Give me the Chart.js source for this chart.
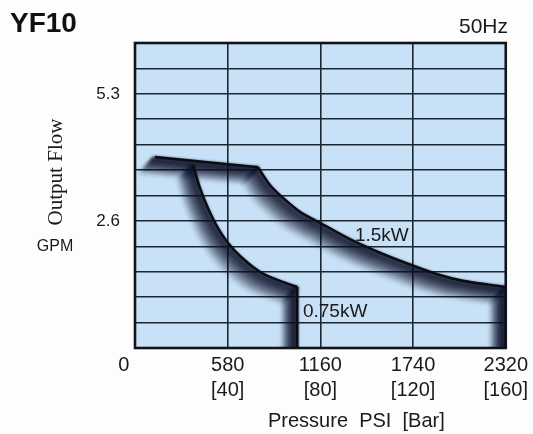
<!DOCTYPE html>
<html>
<head>
<meta charset="utf-8">
<script src="https://cdn.jsdelivr.net/npm/chart.js@4"></script>
<style>
  body { margin: 0; background: #fdfdfd; }
  #wrap { width: 533px; height: 434px; position: relative; }
</style>
</head>
<body>
<div id="wrap"><canvas id="chart"></canvas></div>
<script>
// pressure (PSI) / flow (GPM)
// flat part shared by both motors (pump limit)
var topLineX = [125, 769];
var topLineY = [3.98, 3.77];
var kw15X = [769, 844, 926, 1032, 1157, 1344, 1551, 1745, 1907, 2051, 2320];
var kw15Y = [3.77, 3.40, 3.13, 2.84, 2.61, 2.27, 1.96, 1.71, 1.52, 1.40, 1.27];
var kw075X = [363, 406, 456, 519, 582, 669, 794, 938, 1015];
var kw075Y = [3.82, 3.34, 2.92, 2.50, 2.19, 1.88, 1.56, 1.36, 1.27];
// the vertical cut-off at the end of each curve
var dropX = [2320, 1015];
var dropTopY = [1.27, 1.27];

var xTicks = [0, 580, 1160, 1740, 2320];
var xTickLabels = ['0    ', ['580', '[40]'], ['1160', '[80]'], ['1740', '[120]'], ['2320', '[160]']];
var yGrid = [0, 0.53, 1.06, 1.59, 2.12, 2.65, 3.18, 3.71, 4.24, 4.77, 5.3, 5.83, 6.36];
var yLabelValues = [2.65, 5.3];
var yLabelTexts = ['2.6', '5.3'];

var curveNames = ['1.5kW', '0.75kW'];
var curveNameX = [1376, 1051];
var curveNameY = [2.23, 0.65];

var SANS = '"Liberation Sans", Arial, sans-serif';

function pts(xs, ys) {
    return xs.map(function (x, i) { return {x: x, y: ys[i]}; });
}

function lineSet(label, data, tension) {
    return {
        label: label,
        data: data,
        borderColor: '#0b0d14',
        borderWidth: 2.6,
        pointRadius: 0,
        tension: tension,
        fill: false
    };
}

var sets = [
    lineSet('limit', pts(topLineX, topLineY), 0),
    lineSet(curveNames[0], pts(kw15X, kw15Y), 0.3),
    lineSet(curveNames[1], pts(kw075X, kw075Y), 0.3)
];
dropX.forEach(function (x, i) {
    sets.push(lineSet(curveNames[i] + ' max', [{x: x, y: dropTopY[i]}, {x: x, y: 0}], 0));
});

var panelPlugin = {
    id: 'panel',
    beforeDraw: function (chart) {
        var a = chart.chartArea, c = chart.ctx;
        c.save();
        c.fillStyle = '#c9e1f6';
        c.fillRect(a.left, a.top, a.right - a.left, a.bottom - a.top);
        c.restore();
    },
    beforeDatasetsDraw: function (chart) {
        var a = chart.chartArea, c = chart.ctx;
        c.save();
        c.strokeStyle = '#111418';
        c.lineWidth = 2.6;
        c.strokeRect(a.left, a.top, a.right - a.left, a.bottom - a.top);
        // soft shadow down-left of each curve
        c.beginPath();
        c.rect(a.left, a.top, a.right - a.left, a.bottom - a.top);
        c.clip();
        c.filter = 'blur(1.5px)';
        c.lineWidth = 4;
        c.lineJoin = 'round';
        c.lineCap = 'round';
        for (var k = 17; k >= 1; k--) {
            c.save();
            c.translate(-0.95 * k, 1.0 * k);
            c.strokeStyle = 'rgba(12,17,40,' + (0.65 * Math.pow(1 - k / 18, 1.3)).toFixed(3) + ')';
            chart.data.datasets.forEach(function (ds, di) {
                var meta = chart.getDatasetMeta(di);
                c.beginPath();
                meta.dataset.path(c);
                c.stroke();
            });
            c.restore();
        }
        c.restore();
    },
    afterDraw: function (chart) {
        var c = chart.ctx, xs = chart.scales.x, ys = chart.scales.y;
        c.save();
        c.fillStyle = '#111';
        c.textBaseline = 'alphabetic';
        c.font = 'bold 28px ' + SANS;
        c.textAlign = 'left';
        c.fillText('YF10', 10, 32);
        c.font = '21px ' + SANS;
        c.textAlign = 'right';
        c.fillStyle = '#1a1a1a';
        c.fillText('50Hz', 508, 33);
        c.textAlign = 'left';
        c.font = '20px ' + SANS;
        c.fillText('Pressure  PSI  [Bar]', 268, 427);
        c.textAlign = 'center';
        c.font = '16px ' + SANS;
        c.fillText('GPM', 55, 251);
        c.save();
        c.translate(62, 172);
        c.rotate(-Math.PI / 2);
        c.font = '21px "Liberation Serif", "Times New Roman", serif';
        c.fillText('Output Flow', 0, 0);
        c.restore();
        c.textAlign = 'left';
        c.font = '19px ' + SANS;
        curveNames.forEach(function (t, i) {
            c.fillText(t, xs.getPixelForValue(curveNameX[i]), ys.getPixelForValue(curveNameY[i]));
        });
        c.restore();
    }
};

new Chart(document.getElementById('chart'), {
    type: 'line',
    data: {datasets: sets},
    options: {
        responsive: true,
        maintainAspectRatio: false,
        animation: false,
        layout: {padding: {left: 0, top: 43, right: 27, bottom: 0}},
        plugins: {legend: {display: false}, tooltip: {enabled: false}},
        scales: {
            x: {
                type: 'linear',
                min: 0,
                max: 2320,
                afterBuildTicks: function (s) {
                    s.ticks = xTicks.map(function (v) { return {value: v}; });
                },
                afterFit: function (s) { s.height = 86; },
                ticks: {
                    autoSkip: false,
                    maxRotation: 0,
                    padding: 5,
                    color: '#1a1a1a',
                    font: {family: SANS, size: 20, lineHeight: 1.25},
                    callback: function (v, i) { return xTickLabels[i]; }
                },
                grid: {color: '#1c2630', lineWidth: 1.6, drawTicks: false},
                border: {display: false}
            },
            y: {
                type: 'linear',
                min: 0,
                max: 6.36,
                afterBuildTicks: function (s) {
                    s.ticks = yGrid.map(function (v) { return {value: v}; });
                },
                afterFit: function (s) { s.width = 135; },
                ticks: {
                    autoSkip: false,
                    padding: 15,
                    color: '#1a1a1a',
                    font: {family: SANS, size: 17},
                    callback: function (v) {
                        var j = yLabelValues.indexOf(v);
                        return j >= 0 ? yLabelTexts[j] : '';
                    }
                },
                grid: {color: '#1c2630', lineWidth: 1.6, drawTicks: false},
                border: {display: false}
            }
        }
    },
    plugins: [panelPlugin]
});
</script>
</body>
</html>
